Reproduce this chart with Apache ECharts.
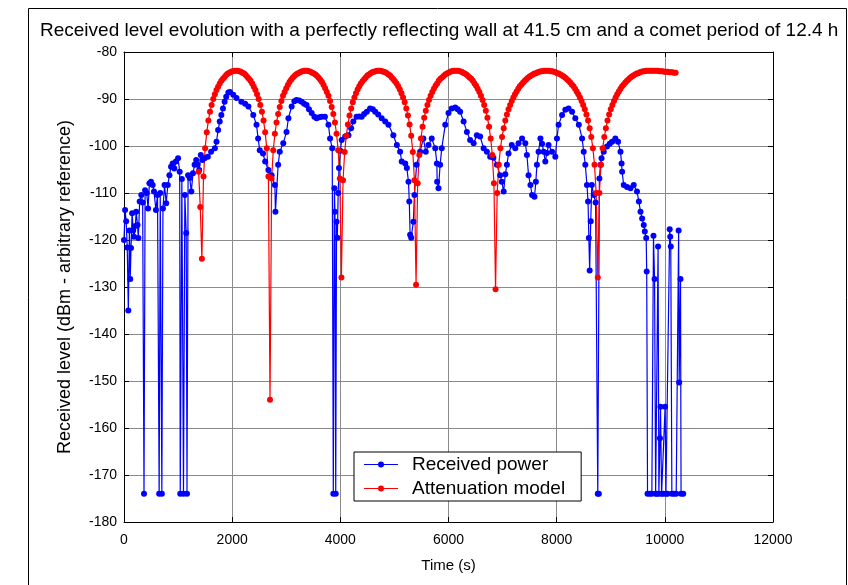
<!DOCTYPE html>
<html><head><meta charset="utf-8">
<script src="https://cdn.jsdelivr.net/npm/echarts@6/dist/echarts.min.js"></script>
<style>html,body{margin:0;padding:0;background:#fff}#c{width:848px;height:585px}</style>
</head><body><div id="c"></div>
<script>
const TITLE = 'Received level evolution with a perfectly reflecting wall at 41.5 cm and a comet period of 12.4 h';
const X_NAME = 'Time (s)';
const Y_NAME = 'Received level (dBm - arbitrary reference)';
const SERIES_NAMES = ['Received power', 'Attenuation model'];
const X_MIN = 0, X_MAX = 12000, X_STEP = 2000;
const Y_MIN = -180, Y_MAX = -80, Y_STEP = 10;

// Received power: sample times (s) and levels (dBm)
const BLUE_T = [0,20,40,60,80,100,115,130,150,170,185,210,225,250,265,290,320,345,370,390,420,445,470,500,530,555,590,620,650,670,700,720,750,780,810,840,870,900,930,960,1000,1030,1040,1070,1100,1125,1150,1165,1185,1215,1245,1275,1305,1335,1360,1390,1420,1450,1490,1550,1610,1680,1710,1740,1770,1800,1830,1860,1890,1930,1960,2020,2080,2170,2240,2300,2390,2450,2480,2510,2570,2610,2670,2730,2790,2800,2850,2880,2945,3005,3040,3100,3150,3190,3240,3285,3330,3375,3420,3470,3520,3560,3610,3655,3715,3780,3810,3850,3870,3890,3900,3915,3930,3945,3960,3975,4000,4025,4090,4150,4200,4240,4300,4350,4395,4440,4490,4550,4600,4645,4700,4765,4830,4890,4980,5045,5105,5135,5200,5230,5260,5275,5290,5310,5350,5370,5410,5475,5535,5580,5630,5690,5755,5785,5790,5815,5845,5875,5940,6000,6060,6125,6170,6215,6280,6340,6400,6465,6525,6585,6650,6710,6770,6830,6895,6955,6985,7020,7050,7080,7110,7170,7235,7295,7360,7420,7450,7480,7515,7545,7590,7615,7635,7665,7700,7730,7760,7790,7820,7850,7915,7975,8005,8035,8100,8160,8220,8285,8345,8410,8470,8500,8530,8560,8580,8595,8610,8630,8650,8685,8720,8760,8780,8790,8810,8830,8870,8930,8980,9025,9085,9135,9180,9200,9210,9240,9300,9365,9425,9485,9520,9550,9580,9610,9630,9655,9665,9680,9720,9760,9790,9810,9830,9850,9875,9890,9910,9920,9940,9970,10005,10020,10050,10090,10100,10110,10130,10170,10210,10255,10265,10290,10300,10340];
const BLUE_DB = [-120,-113.6,-116,-121.6,-135,-118,-128.3,-121.7,-114.3,-118,-119.3,-117,-114,-116.8,-119.6,-111.8,-110.4,-112,-174,-109.4,-110,-113.3,-107.9,-107.6,-108.3,-109.7,-113.6,-110.4,-174,-110,-174,-113.3,-108.3,-112.2,-108.3,-106.2,-104.4,-103.7,-104.8,-103.3,-102.6,-105.5,-174,-107,-174,-110.4,-118.5,-174,-106.2,-106.8,-109.7,-105.8,-104,-103,-104,-105.1,-101.9,-103,-102.6,-102.3,-101.2,-100.5,-99.1,-96.6,-94.8,-93.4,-92,-90.6,-89.5,-88.6,-88.5,-89.1,-89.8,-90.6,-91,-91.6,-93.4,-95.5,-98.4,-100.9,-101.6,-103.3,-105.1,-106.2,-108.3,-114,-104,-101.2,-99.4,-97,-94.1,-91.6,-90.5,-90.2,-90.3,-90.6,-91,-91.3,-92.2,-93,-93.8,-94.1,-93.9,-93.8,-93.8,-95.5,-98.4,-100.5,-174,-109,-114,-174,-116.1,-119.5,-110,-104.7,-101,-98.7,-98,-97.7,-96.2,-94.8,-93.8,-93.7,-93.8,-93.2,-92.7,-92,-92.2,-92.7,-93.3,-94.1,-94.8,-95.5,-97.7,-99.8,-101.2,-103.3,-103.7,-104.7,-107.6,-111.8,-118.9,-119.5,-116.1,-110.4,-104,-101.2,-98.4,-101.2,-99.8,-98.4,-100.5,-103.7,-107.6,-109,-104,-100.5,-95.5,-93,-92,-91.8,-92.2,-92.7,-94.8,-97,-98.7,-99.4,-97.7,-98,-100.5,-101.2,-102.3,-102.5,-104,-106.2,-107.6,-109.7,-106,-104,-101.6,-99.8,-100.5,-99.4,-98.4,-99.4,-101.9,-106.2,-108.3,-110.4,-110.8,-107.6,-104,-101.2,-98.4,-99.5,-101.2,-103.3,-101.5,-99.8,-101.2,-102.3,-98.4,-95.5,-93.4,-92.3,-92,-92.7,-94.1,-95.5,-98.4,-101.2,-104,-108.3,-111.8,-119.6,-126.5,-116,-108.3,-110.4,-112,-174,-174,-106.9,-104,-102.6,-101.2,-100.1,-99.5,-99.1,-98.4,-99.1,-101.2,-103.7,-105.5,-108.3,-108.7,-109,-108.3,-109.7,-111.8,-114,-115.4,-116.8,-118.2,-119.6,-126.7,-174,-174,-174,-119.1,-128.3,-174,-174,-121.4,-174,-162.2,-155.5,-174,-174,-155.5,-174,-174,-117.7,-119.3,-121.4,-174,-174,-174,-118,-150.3,-128.3,-174,-174];

const RED_T0 = 1380, RED_STEP = 30;
const RED_DB = [
-105.5,-113,-124,
-106.5,-100.5,-97.1,-94.6,-92.7,-91.3,-90,-89,-88.1,-87.4,-86.7,-86.1,-85.7,-85.3,-84.9,-84.6,-84.4,-84.2,-84.1,-84,-84,-84,-84.1,-84.2,-84.4,-84.6,-84.9,-85.3,-85.7,-86.1,-86.7,-87.4,-88.1,-89,-90,-91.3,-92.7,-94.6,-97.1,-100.5,-106.5,
-154,
-106.9,-100.9,-97.4,-95,-93.2,-91.7,-90.4,-89.3,-88.5,-87.7,-87,-86.4,-85.9,-85.5,-85.1,-84.8,-84.6,-84.4,-84.2,-84.1,-84,-84,-84,-84.1,-84.2,-84.4,-84.6,-84.8,-85.1,-85.5,-85.9,-86.4,-87,-87.7,-88.5,-89.3,-90.4,-91.7,-93.2,-95,-97.4,-100.9,-106.9,
-128,
-107.3,-101.3,-97.8,-95.4,-93.5,-92,-90.7,-89.7,-88.8,-88,-87.3,-86.7,-86.2,-85.8,-85.4,-85,-84.8,-84.5,-84.3,-84.2,-84.1,-84,-84,-84,-84.1,-84.2,-84.3,-84.5,-84.8,-85,-85.4,-85.8,-86.2,-86.7,-87.3,-88,-88.8,-89.7,-90.7,-92,-93.5,-95.4,-97.8,-101.3,-107.3,
-129.5,
-107.9,-101.9,-98.4,-95.9,-94,-92.5,-91.3,-90.2,-89.3,-88.5,-87.8,-87.2,-86.7,-86.1,-85.7,-85.4,-85.1,-84.8,-84.6,-84.4,-84.2,-84.1,-84,-84,-84,-84,-84.1,-84.2,-84.4,-84.6,-84.8,-85.1,-85.4,-85.7,-86.1,-86.7,-87.2,-87.8,-88.5,-89.3,-90.2,-91.3,-92.5,-94,-95.9,-98.4,-101.9,-107.9,
-130.5,
-110,-104,-100.5,-98.1,-96.2,-94.6,-93.3,-92.2,-91.3,-90.4,-89.7,-89,-88.4,-87.8,-87.3,-86.9,-86.5,-86.1,-85.8,-85.5,-85.2,-85,-84.8,-84.6,-84.5,-84.3,-84.2,-84.1,-84.1,-84,-84,-84,-84,-84.1,-84.1,-84.2,-84.3,-84.5,-84.6,-84.8,-85,-85.2,-85.5,-85.8,-86.1,-86.5,-86.9,-87.3,-87.8,-88.4,-89,-89.7,-90.4,-91.3,-92.2,-93.3,-94.6,-96.2,-98.1,-100.5,-104,-110,
-128,
-110,-104,-100.5,-98.1,-96.2,-94.6,-93.3,-92.2,-91.3,-90.4,-89.7,-89,-88.4,-87.8,-87.3,-86.9,-86.5,-86.1,-85.8,-85.5,-85.2,-85,-84.8,-84.6,-84.5,-84.3,-84.2,-84.1,-84.1,-84,-84,-84,-84,-84,-84,-84,-84,-84.1,-84.1,-84.1,-84.2,-84.2,-84.2,-84.3,-84.3,-84.3,-84.4,-84.4
];

const blueData = BLUE_T.map((t, i) => [t, BLUE_DB[i]]);
const redData = RED_DB.map((v, i) => [RED_T0 + i * RED_STEP, v]);

const FONT = 'Liberation Sans, Arial, sans-serif';
const chart = echarts.init(document.getElementById('c'), null, {renderer: 'canvas'});
const axisCommon = {
  axisLine: {show: true, onZero: false, lineStyle: {color: '#000', width: 1}},
  axisTick: {show: true, inside: true, length: 5, lineStyle: {color: '#000'}},
};
const ICON = 'path://M0,3.4H34V4.6H0Z M14,4A3,3 0 1 1 20,4A3,3 0 1 1 14,4Z';
chart.setOption({
  animation: false,
  backgroundColor: '#fff',
  title: {text: TITLE, left: 40, top: 21, padding: 0, textStyle: {fontFamily: FONT, fontSize: 19, fontWeight: 'normal', color: '#000'}},
  grid: {left: 124, right: 75, top: 52, bottom: 63, show: false},
  legend: {
    data: [{name: SERIES_NAMES[0], icon: ICON}, {name: SERIES_NAMES[1], icon: ICON}],
    orient: 'vertical', left: 354, top: 452, itemWidth: 34, itemHeight: 8, itemGap: 3,
    padding: [2, 16, 2, 10], borderColor: '#000', borderWidth: 1, borderRadius: 0, backgroundColor: '#fff',
    textStyle: {fontFamily: FONT, fontSize: 19, color: '#000', padding: [0, 0, 0, 9], lineHeight: 21}
  },
  xAxis: [
    Object.assign({type: 'value', min: X_MIN, max: X_MAX, interval: X_STEP, position: 'bottom',
      axisLabel: {color: '#000', fontFamily: FONT, fontSize: 14, margin: 11, formatter: v => String(v)},
      splitLine: {show: true, lineStyle: {color: '#8a8a8a', width: 1}},
      name: X_NAME, nameLocation: 'middle', nameGap: 36,
      nameTextStyle: {color: '#000', fontFamily: FONT, fontSize: 15}}, axisCommon),
    Object.assign({type: 'value', min: X_MIN, max: X_MAX, interval: X_STEP, position: 'top',
      axisLabel: {show: false}, splitLine: {show: false}}, axisCommon)
  ],
  yAxis: [
    Object.assign({type: 'value', min: Y_MIN, max: Y_MAX, interval: Y_STEP, position: 'left',
      axisLabel: {color: '#000', fontFamily: FONT, fontSize: 14, margin: 7},
      splitLine: {show: true, lineStyle: {color: '#8a8a8a', width: 1}},
      name: Y_NAME, nameLocation: 'middle', nameGap: 50,
      nameTextStyle: {color: '#000', fontFamily: FONT, fontSize: 18}}, axisCommon),
    Object.assign({type: 'value', min: Y_MIN, max: Y_MAX, interval: Y_STEP, position: 'right',
      axisLabel: {show: false}, splitLine: {show: false}}, axisCommon)
  ],
  series: [
    {name: SERIES_NAMES[0], type: 'line', data: blueData, xAxisIndex: 0, yAxisIndex: 0,
     symbol: 'circle', symbolSize: 6, showAllSymbol: true, color: '#0000ff',
     lineStyle: {color: '#0000ff', width: 1.2}, itemStyle: {color: '#0000ff'}},
    {name: SERIES_NAMES[1], type: 'line', data: redData, xAxisIndex: 0, yAxisIndex: 0,
     symbol: 'circle', symbolSize: 6, showAllSymbol: true, color: '#ff0000',
     lineStyle: {color: '#ff0000', width: 1.2}, itemStyle: {color: '#ff0000'}}
  ],
  graphic: [
    {type: 'rect', silent: true, z: -1, shape: {x: 28.5, y: 8.5, width: 818, height: 600},
     style: {fill: null, stroke: '#000', lineWidth: 1}}
  ]
});
</script></body></html>
